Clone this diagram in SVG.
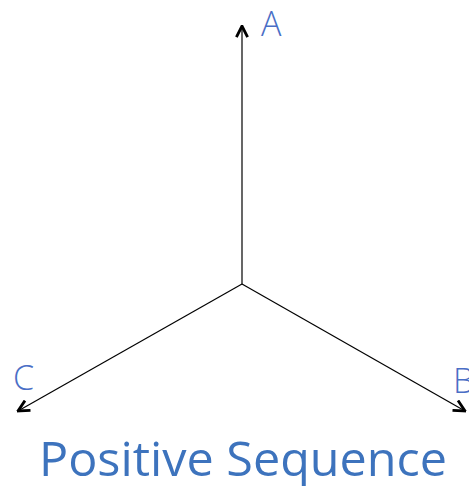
<svg xmlns="http://www.w3.org/2000/svg" width="469" height="486" viewBox="0 0 469 486">
<defs>
<marker id="arr" viewBox="0 0 10 10" refX="9" refY="5" markerWidth="14" markerHeight="14" markerUnits="userSpaceOnUse" orient="auto">
<path d="M1,1 L9,5 L1,9" fill="none" stroke="#000" stroke-width="2"/>
</marker>
</defs>
<style>
.ln{stroke:#000;stroke-width:1.2;fill:none}
.lbl{font-family:"Open Sans","Noto Sans",sans-serif;font-size:34px;fill:#4a6ec6;font-weight:300}
.title{font-family:"Open Sans","Noto Sans",sans-serif;font-size:48px;fill:#3d73bd;text-anchor:middle}
</style>
<rect width="469" height="486" fill="#fff"/>
<g id="connectors">
<line class="ln" x1="242" y1="284" x2="242" y2="26" marker-end="url(#arr)"/>
<line class="ln" x1="242" y1="284" x2="465" y2="411" marker-end="url(#arr)"/>
<line class="ln" x1="242" y1="284" x2="18" y2="411" marker-end="url(#arr)"/>
</g>
<g id="A"><text class="lbl" x="261" y="36">A</text></g>
<g id="B"><text class="lbl" x="453" y="393">B</text></g>
<g id="C"><text class="lbl" x="13" y="390">C</text></g>
<g id="title"><text class="title" x="243" y="476" textLength="408" lengthAdjust="spacingAndGlyphs">Positive Sequence</text></g>
</svg>
